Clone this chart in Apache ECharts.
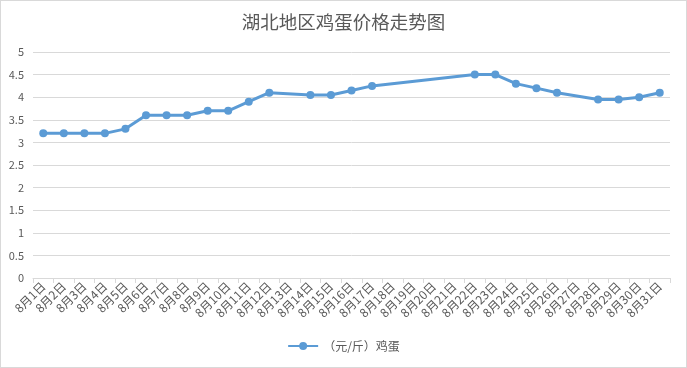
<!DOCTYPE html>
<html><head><meta charset="utf-8">
<script src="https://cdn.jsdelivr.net/npm/echarts@6/dist/echarts.min.js"></script>
<style>html,body{margin:0;padding:0;background:#fff}#c{width:687px;height:368px;box-sizing:border-box;border:1px solid #d9d9d9}</style>
</head><body><div id="c"></div>
<script>
const categories = ['8月1日','8月2日','8月3日','8月4日','8月5日','8月6日','8月7日','8月8日','8月9日','8月10日','8月11日','8月12日','8月13日','8月14日','8月15日','8月16日','8月17日','8月18日','8月19日','8月20日','8月21日','8月22日','8月23日','8月24日','8月25日','8月26日','8月27日','8月28日','8月29日','8月30日','8月31日'];
const eggPrices = [3.2,3.2,3.2,3.2,3.3,3.6,3.6,3.6,3.7,3.7,3.9,4.1,null,4.05,4.05,4.15,4.25,null,null,null,null,4.5,4.5,4.3,4.2,4.1,null,3.95,3.95,4.0,4.1];
const seriesName = '（元/斤）鸡蛋';
const chart = echarts.init(document.getElementById('c'));
chart.setOption({
  animation:false,
  title:{text:'湖北地区鸡蛋价格走势图',left:'center',top:7,textStyle:{fontSize:18.5,fontWeight:'normal',color:'#595959',fontFamily:'Noto Sans CJK SC'}},
  legend:{bottom:10,left:'center',itemWidth:30,itemHeight:10,textStyle:{color:'#595959',fontSize:12,fontFamily:'Noto Sans CJK SC'},data:[seriesName]},
  grid:{left:32,right:16,top:51,bottom:89,containLabel:false},
  xAxis:{type:'category',data:categories,boundaryGap:true,
    axisLine:{lineStyle:{color:'#d9d9d9'}},
    axisTick:{show:true,alignWithLabel:false,lineStyle:{color:'#d9d9d9'},length:5},
    axisLabel:{rotate:45,interval:0,color:'#595959',fontSize:12,fontFamily:'Noto Sans CJK SC',margin:6}},
  yAxis:{type:'value',min:0,max:5,interval:0.5,
    axisLine:{show:false},axisTick:{show:false},
    splitLine:{lineStyle:{color:'#d9d9d9'}},
    axisLabel:{color:'#595959',fontSize:11,fontFamily:'Noto Sans CJK SC',margin:9}},
  series:[{name:seriesName,type:'line',data:eggPrices,connectNulls:true,
    symbol:'circle',symbolSize:8,
    itemStyle:{color:'#5b9bd5'},lineStyle:{color:'#5b9bd5',width:3}}]
});
</script></body></html>
